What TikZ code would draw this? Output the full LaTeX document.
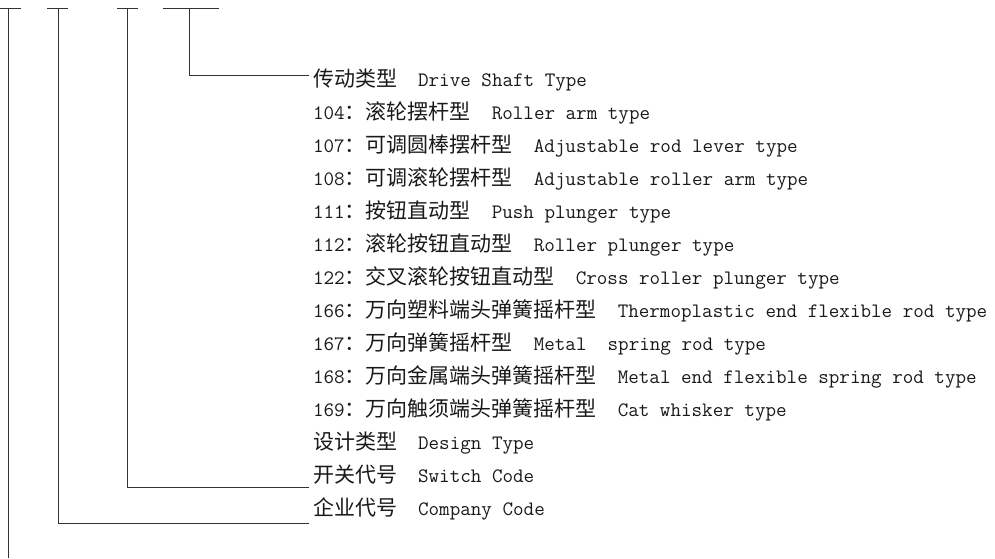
\documentclass[tikz,border=0pt]{standalone}
\usepackage{fontspec}
\newfontfamily\cjkfont{Noto Sans CJK SC}
\newcommand\mn{\fontsize{20.5}{22}\selectfont\ttfamily}
\newcommand\zh{\fontsize{21}{24}\selectfont\cjkfont}
\begin{document}
\begin{tikzpicture}[x=1pt,y=-1pt,
  rowtext/.style={anchor=base west,inner sep=0pt,outer sep=0pt,text=black!90},
  conn/.style={draw=black!80,line width=1pt},
  bar/.style={draw=black!80,line width=1pt}]
\useasboundingbox (0,0) rectangle (995,558);
% top placeholder bars
\coordinate (a0) at (0,8);   \coordinate (a1) at (21,8);
\coordinate (b0) at (47,8);  \coordinate (b1) at (68,8);
\coordinate (c0) at (117,8); \coordinate (c1) at (138,8);
\coordinate (d0) at (163,8); \coordinate (d1) at (219,8);
\draw[bar] (a0) -- (a1);
\draw[bar] (b0) -- (b1);
\draw[bar] (c0) -- (c1);
\draw[bar] (d0) -- (d1);
\coordinate (av) at (8,8);
\coordinate (bv) at (58,8);
\coordinate (cv) at (127,8);
\coordinate (dv) at (189,8);
\coordinate (aend) at (8,558);
% rows
\node[rowtext] (r0)  at (313,86)  {\zh 传动类型\mn\ \ Drive Shaft Type};
\node[rowtext] (r1)  at (313,119) {\mn 104\zh ：滚轮摆杆型\mn\ \ Roller arm type};
\node[rowtext] (r2)  at (313,152) {\mn 107\zh ：可调圆棒摆杆型\mn\ \ Adjustable rod lever type};
\node[rowtext] (r3)  at (313,185) {\mn 108\zh ：可调滚轮摆杆型\mn\ \ Adjustable roller arm type};
\node[rowtext] (r4)  at (313,218) {\mn 111\zh ：按钮直动型\mn\ \ Push plunger type};
\node[rowtext] (r5)  at (313,251) {\mn 112\zh ：滚轮按钮直动型\mn\ \ Roller plunger type};
\node[rowtext] (r6)  at (313,284) {\mn 122\zh ：交叉滚轮按钮直动型\mn\ \ Cross roller plunger type};
\node[rowtext] (r7)  at (313,317) {\mn 166\zh ：万向塑料端头弹簧摇杆型\mn\ \ Thermoplastic end flexible rod type};
\node[rowtext] (r8)  at (313,350) {\mn 167\zh ：万向弹簧摇杆型\mn\ \ Metal\ \ spring rod type};
\node[rowtext] (r9)  at (313,383) {\mn 168\zh ：万向金属端头弹簧摇杆型\mn\ \ Metal end flexible spring rod type};
\node[rowtext] (r10) at (313,416) {\mn 169\zh ：万向触须端头弹簧摇杆型\mn\ \ Cat whisker type};
\node[rowtext] (r11) at (313,449) {\zh 设计类型\mn\ \ Design Type};
\node[rowtext] (r12) at (313,482) {\zh 开关代号\mn\ \ Switch Code};
\node[rowtext] (r13) at (313,515) {\zh 企业代号\mn\ \ Company Code};
% connector ends
\coordinate (e0)  at ([xshift=-4pt]r0.west |- 0,75);
\coordinate (e12) at ([xshift=-4pt]r12.west |- 0,487);
\coordinate (e13) at ([xshift=-4pt]r13.west |- 0,523);
% connectors
\draw[conn] (av) -- (aend);
\draw[conn] (bv) |- (e13);
\draw[conn] (cv) |- (e12);
\draw[conn] (dv) |- (e0);
\end{tikzpicture}
\end{document}
